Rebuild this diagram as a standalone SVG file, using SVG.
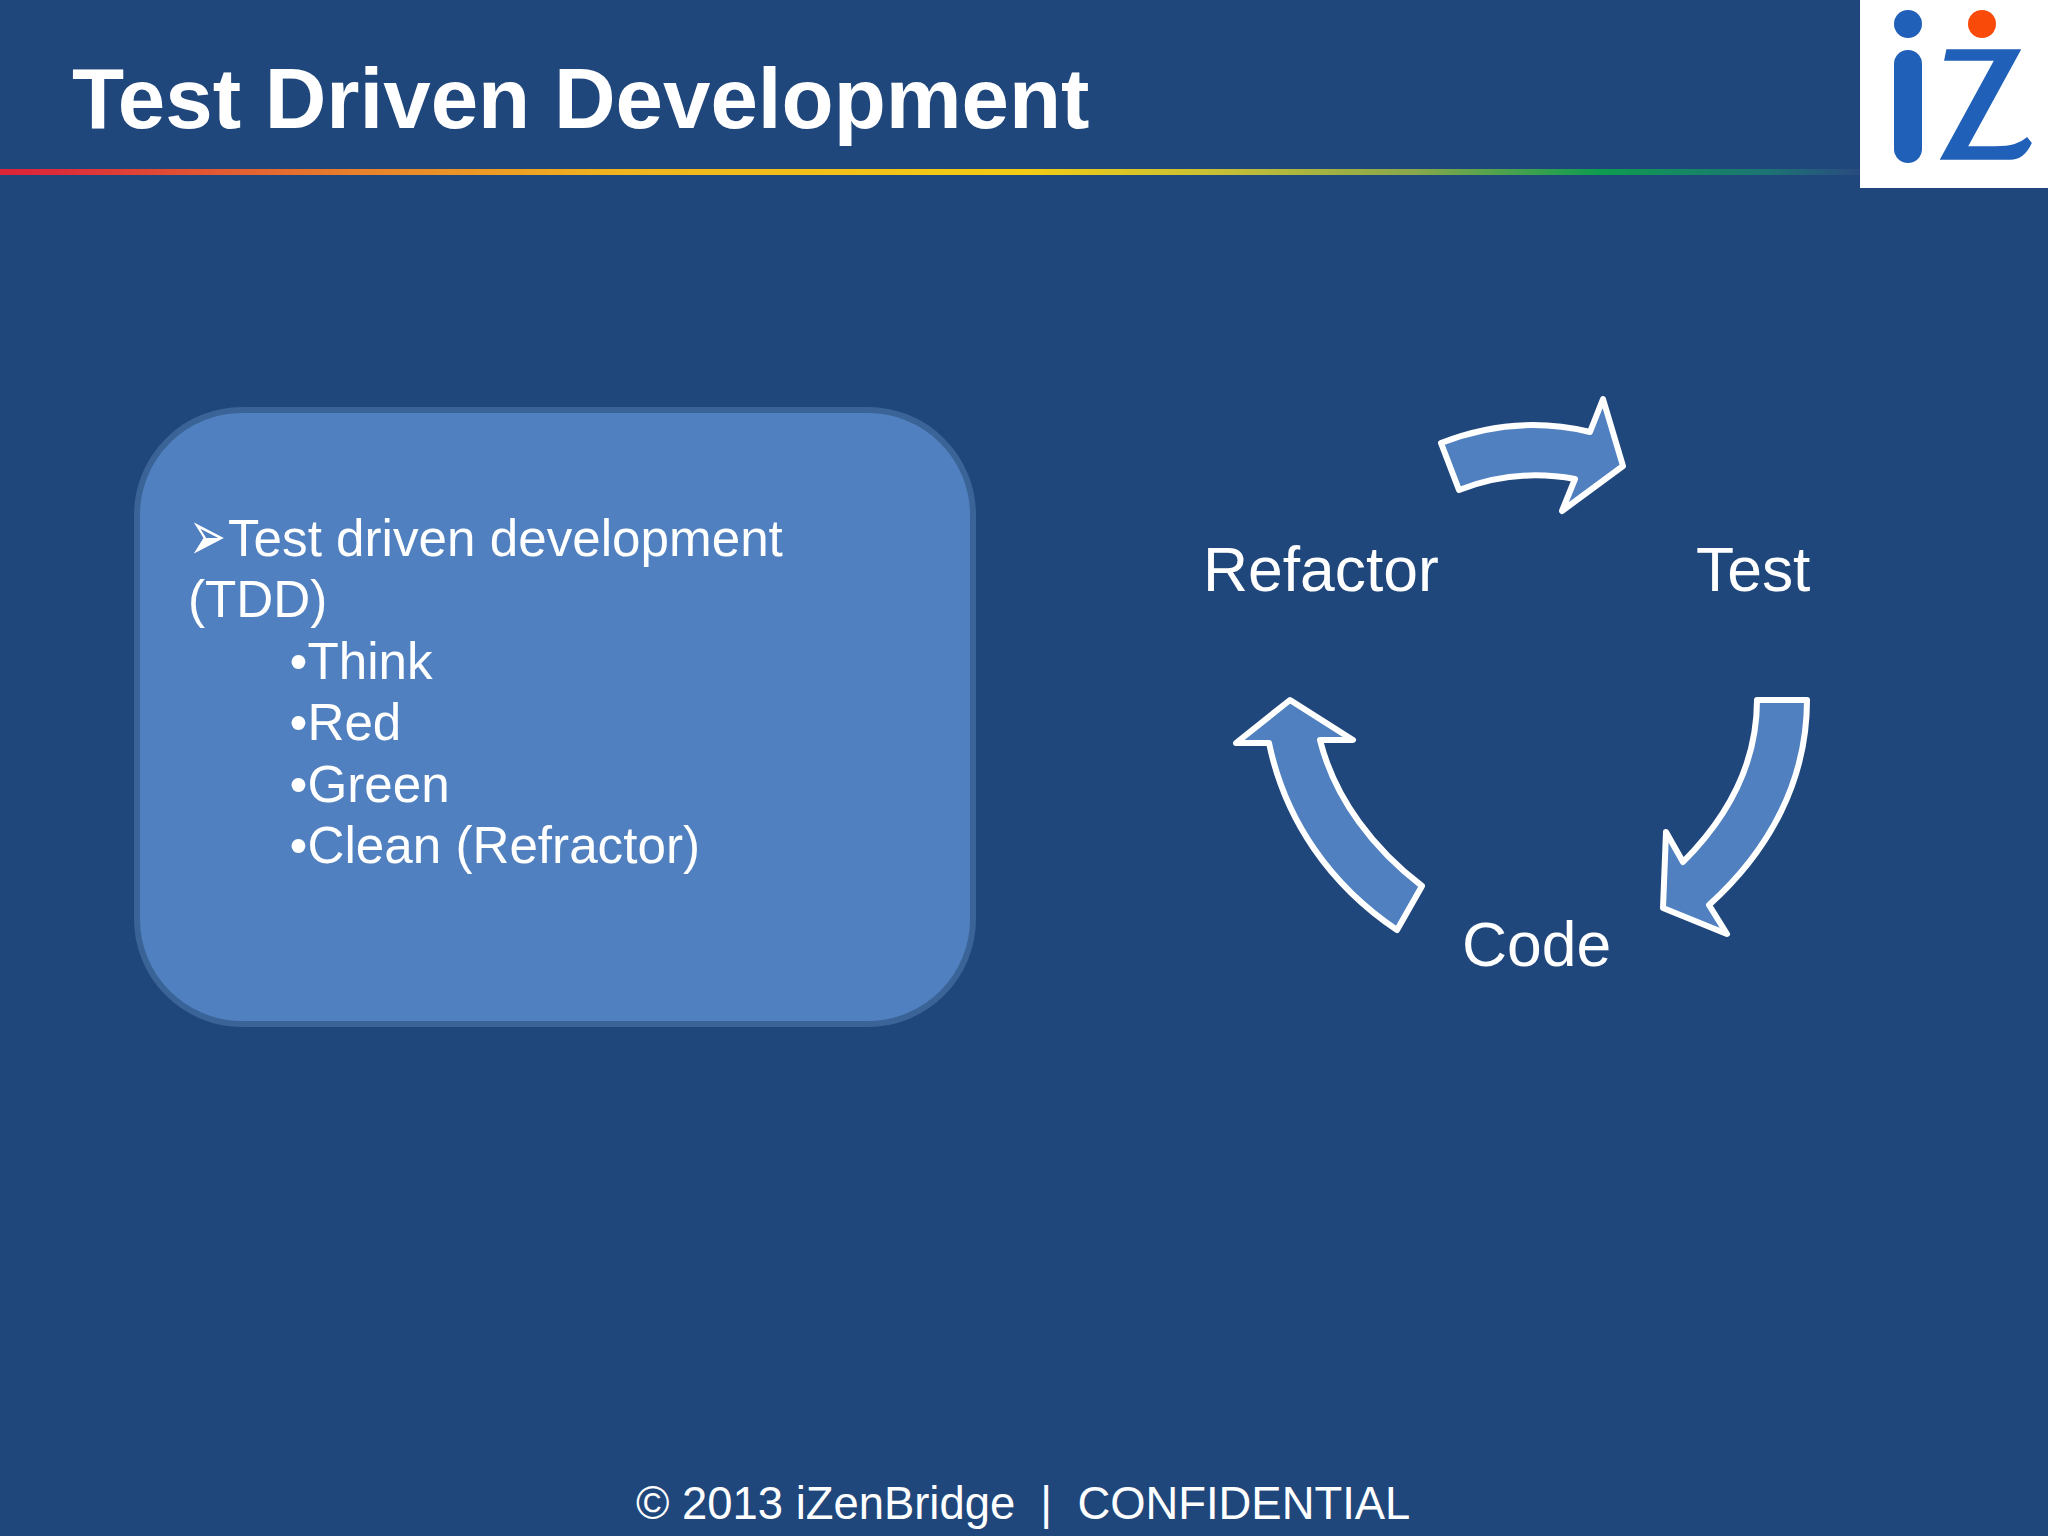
<svg xmlns="http://www.w3.org/2000/svg" width="2048" height="1536" viewBox="0 0 2048 1536">
<style>
text{font-family:"Liberation Sans",Arial,sans-serif;fill:#fff}
.body{font-size:51.2px}
.cyc{font-size:62.4px}
.arrow{fill:#5080bf;stroke:#fff;stroke-width:6;stroke-linejoin:round}
</style>
<defs>
<linearGradient id="rule" x1="0" x2="1" y1="0" y2="0">
<stop offset="0" stop-color="#dc2438"/>
<stop offset="0.03" stop-color="#dc2c3a"/>
<stop offset="0.19" stop-color="#e8802c"/>
<stop offset="0.33" stop-color="#f0b41e"/>
<stop offset="0.55" stop-color="#f4cc14"/>
<stop offset="0.65" stop-color="#c8c034"/>
<stop offset="0.76" stop-color="#88a84c"/>
<stop offset="0.86" stop-color="#0e9c50"/>
<stop offset="0.95" stop-color="#1c7474"/>
<stop offset="1" stop-color="#2a4a80"/>
</linearGradient>
</defs>
<rect width="2048" height="1536" fill="#20477c"/>
<g id="title">
<text x="72" y="128" font-size="85.3" font-weight="bold">Test Driven Development</text>
<rect x="0" y="169" width="1860" height="6" fill="url(#rule)"/>
</g>
<g id="logo">
<rect x="1860" y="0" width="188" height="188" fill="#fff"/>
<circle cx="1908" cy="24" r="14" fill="#2060b8"/>
<circle cx="1982" cy="24" r="14" fill="#fa4a0a"/>
<rect x="1894" y="50" width="28" height="113" rx="14" fill="#2060b8"/>
<path d="M1947 50H2020L1967 147H1995C2012 147 2020 144 2027 138L2031 143C2027 152 2020 159 2010 159H1941L1995 60H1945Z" fill="#2060b8" stroke="#2060b8" stroke-width="1.5"/>
</g>
<g id="box">
<rect x="137" y="410" width="836" height="614" rx="105" ry="105" fill="#5080bf" stroke="#3a6497" stroke-width="6"/>
<text transform="translate(189 560) scale(1 1.6)" font-size="44" style="font-family:'DejaVu Sans',sans-serif">➢</text>
<text class="body" x="228" y="556">Test driven development</text>
<text class="body" x="188" y="617">(TDD)</text>
<text class="body" x="289.5" y="679">•Think</text>
<text class="body" x="289.5" y="740">•Red</text>
<text class="body" x="289.5" y="802">•Green</text>
<text class="body" x="289.5" y="863">•Clean (Refractor)</text>
</g>
<g id="node-refactor"><text class="cyc" x="1203" y="591">Refactor</text></g>
<g id="node-test"><text class="cyc" x="1696" y="591">Test</text></g>
<g id="node-code"><text class="cyc" x="1462" y="966">Code</text></g>
<g id="connectors">
<path class="arrow" d="M1441 443Q1515 414 1590 432L1603 399L1623 466L1562 511L1575 479Q1515 468 1459 490Z"/>
<path class="arrow" d="M1757 700H1807C1807 780 1770 850 1709 905L1727 934L1663 908L1666 832L1683 862C1730 815 1757 760 1757 700Z"/>
<path class="arrow" d="M1290 700L1353 740H1320C1335 800 1375 850 1422 886L1397 930C1330 885 1285 820 1269 743H1236Z"/>
</g>
<g id="footer">
<text x="636" y="1519" font-size="45.4" xml:space="preserve">© 2013 iZenBridge  |  CONFIDENTIAL</text>
</g>
</svg>
